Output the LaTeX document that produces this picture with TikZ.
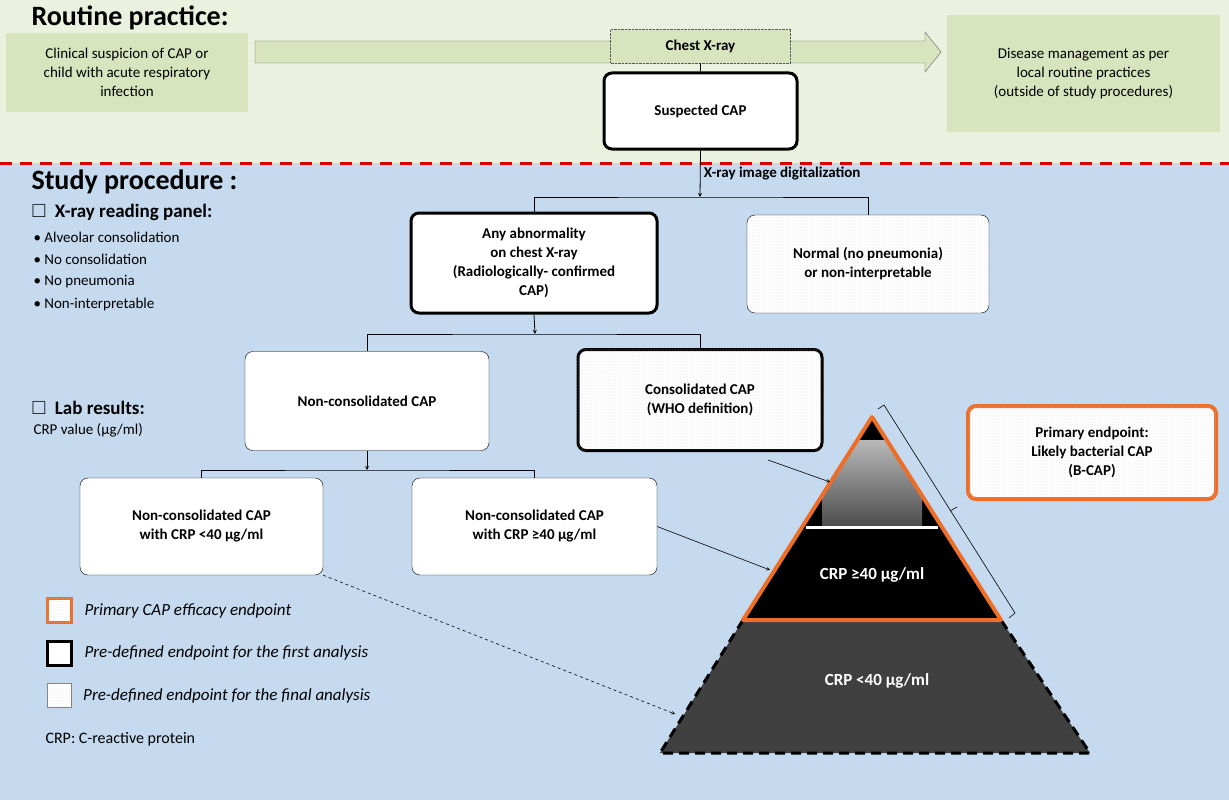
\documentclass[tikz,border=0pt]{standalone}
\usepackage{fontspec}
\setmainfont{Carlito}
\usepackage{amssymb}
\usetikzlibrary{shapes,arrows,positioning,calc,patterns,decorations.pathreplacing}
\definecolor{topbg}{RGB}{235,241,222}
\definecolor{lowbg}{RGB}{197,217,239}
\definecolor{greenbox}{RGB}{215,228,189}
\definecolor{orangeline}{RGB}{237,110,40}

\begin{document}
\begin{tikzpicture}[x=1pt, y=-1pt,
    txt/.style={font=\fontsize{15}{19}\selectfont, align=center},
    rbox/.style={draw, rounded corners=8pt, fill=white, txt, font=\fontsize{15}{19}\selectfont\bfseries},
    heavy/.style={rbox, line width=3pt},
    light/.style={rbox, thin},
    dots/.style={postaction={pattern=dots, pattern color=gray!35}},
    gbox/.style={fill=greenbox, txt},
    edge/.style={thick},
    head/.style={font=\fontsize{28}{32}\selectfont\bfseries, anchor=west},
    sub/.style={font=\fontsize{19}{22}\selectfont\bfseries, anchor=west},
    item/.style={font=\fontsize{15}{18}\selectfont, anchor=west}
]
    \useasboundingbox (0,0) rectangle (1229,800);
    % Backgrounds
    \fill[topbg] (0,0) rectangle (1229,163);
    \fill[lowbg] (0,163) rectangle (1229,800);
    \draw[red!85!black, line width=3pt, dash pattern=on 12pt off 8pt] (0,163) -- (1229,163);

    % Routine practice
    \node[head] (rp) at (28,18) {Routine practice:};
    \node[gbox, minimum width=242pt, minimum height=79pt] (susp) at (127,72.5)
        {Clinical suspicion of CAP or\\child with acute respiratory\\infection};
    \node[gbox, minimum width=273pt, minimum height=117pt] (mgmt) at (1083.5,73.5)
        {Disease management as per\\local routine practices\\(outside of study procedures)};
    \draw[gray!70!black, fill=greenbox] (255,41) -- (925,41) -- (925,32) -- (941,52) -- (925,72) -- (925,63) -- (255,63) -- cycle;
    \node[draw=gray!70!black, densely dotted, fill=greenbox, minimum width=180pt, minimum height=34pt,
        font=\fontsize{15}{18}\selectfont\bfseries] (cxr) at (700.5,46) {Chest X-ray};
    \node[heavy, minimum width=193pt, minimum height=76pt] (scap) at (700.5,111) {Suspected CAP};
    \draw[edge] (cxr.south) -- (scap.north);

    % Study procedure
    \node[head] (sp) at (28,182) {Study procedure :};
    \node[sub] (xrp) at (28,212) {$\square$\ \ X-ray reading panel:};
    \foreach \t [count=\i] in {Alveolar consolidation, No consolidation, No pneumonia, Non-interpretable}
        \node[item] (b\i) at (30,215+22.3*\i) {\textbullet\ \t};

    \coordinate (s1) at (700,197);
    \draw[edge, -stealth] (scap.south) -- (s1) node[midway, right, font=\fontsize{15}{18}\selectfont\bfseries] {X-ray image digitalization};
    \node[heavy, minimum width=246pt, minimum height=100pt] (abn) at (534,263)
        {Any abnormality\\on chest X-ray\\(Radiologically- confirmed\\CAP)};
    \node[light, dots, minimum width=242pt, minimum height=98pt] (norm) at (868,264)
        {Normal (no pneumonia)\\or non-interpretable};
    \draw[edge] (abn.north) |- (s1) -| (norm.north);

    \coordinate (s2) at (535,334);
    \draw[edge, -stealth] (abn.south) -- (s2);
    \node[light, minimum width=244pt, minimum height=99pt] (ncap) at (367,401) {Non-consolidated CAP};
    \node[heavy, dots, minimum width=244pt, minimum height=101pt] (ccap) at (700,400)
        {Consolidated CAP\\(WHO definition)};
    \draw[edge] (ncap.north) |- (s2) -| (ccap.north);

    % Lab results
    \node[sub] (lab) at (28,408) {$\square$\ \ Lab results:};
    \node[item] (crpv) at (30,430) {CRP value (µg/ml)};
    \coordinate (s3) at (367,470);
    \draw[edge, -stealth] (ncap.south) -- (s3);
    \node[light, minimum width=243pt, minimum height=97pt] (nlow) at (201.5,526.5)
        {Non-consolidated CAP\\with CRP <40 µg/ml};
    \node[light, minimum width=245pt, minimum height=97pt] (nhigh) at (534.5,526.5)
        {Non-consolidated CAP\\with CRP ≥40 µg/ml};
    \draw[edge] (nlow.north) |- (s3) -| (nhigh.north);

    % Pyramid
    \coordinate (apex) at (872,417);
    \coordinate (ml) at (743,620);
    \coordinate (mr) at (1001,620);
    \coordinate (bl) at (660,753);
    \coordinate (br) at (1090,753);
    \fill[gray!50!black] (ml) -- (mr) -- (br) -- (bl) -- cycle;
    \draw[line width=3pt, dash pattern=on 10pt off 6pt] (ml) -- (bl) -- (br) -- (mr);
    \fill[black] (apex) -- (mr) -- (ml) -- cycle;
    \begin{scope}
        \clip (apex) -- (mr) -- (ml) -- cycle;
        \shade[top color=gray!55, bottom color=gray!60!black] (822,440) rectangle (922,526);
    \end{scope}
    \draw[white, line width=3pt] (806,527) -- (938,527);
    \draw[orangeline, line width=4pt, line join=round] (apex) -- (mr) -- (ml) -- cycle;
    \node[font=\fontsize{17}{20}\selectfont\bfseries, text=white] (hi) at (872,575) {CRP ≥40 µg/ml};
    \node[font=\fontsize{17}{20}\selectfont\bfseries, text=white] (lo) at (877,681) {CRP <40 µg/ml};
    \coordinate (xray) at (830,482);
    \coordinate (crphi) at (770,570);
    \coordinate (crplo) at (675,714);

    \draw[semithick, -stealth] (768,460) -- (xray);
    \draw[semithick, -stealth] (nhigh.east) -- (crphi);
    \draw[semithick, dashed, -stealth] (nlow.south east) -- (crplo);

    % Bracket and primary endpoint
    \draw[semithick] (878,409) -- (884,405) -- (1015,613) -- (1009,618);
    \draw[semithick] (950,511) -- (957,507);
    \node[rbox, dots, draw=orangeline, line width=4pt, minimum width=248pt, minimum height=93pt] (prim) at (1092,452.5)
        {Primary endpoint:\\Likely bacterial CAP\\(B-CAP)};

    % Legend
    \node[draw=orangeline, line width=3pt, fill=white, dots, minimum size=24pt] (k1) at (59.5,610.5) {};
    \node[draw, line width=3pt, fill=white, minimum size=24pt] (k2) at (59.5,653) {};
    \node[draw=gray, fill=white, dots, minimum size=24pt] (k3) at (59.5,695.5) {};
    \node[item, font=\fontsize{17}{20}\selectfont\itshape, right=8pt of k1] (l1) {Primary CAP efficacy endpoint};
    \node[item, font=\fontsize{17}{20}\selectfont\itshape, right=8pt of k2] (l2) {Pre-defined endpoint for the first analysis};
    \node[item, font=\fontsize{17}{20}\selectfont\itshape, right=8pt of k3] (l3) {Pre-defined endpoint for the final analysis};
    \node[item, font=\fontsize{16}{19}\selectfont] (crpdef) at (42,739) {CRP: C-reactive protein};
\end{tikzpicture}
\end{document}
